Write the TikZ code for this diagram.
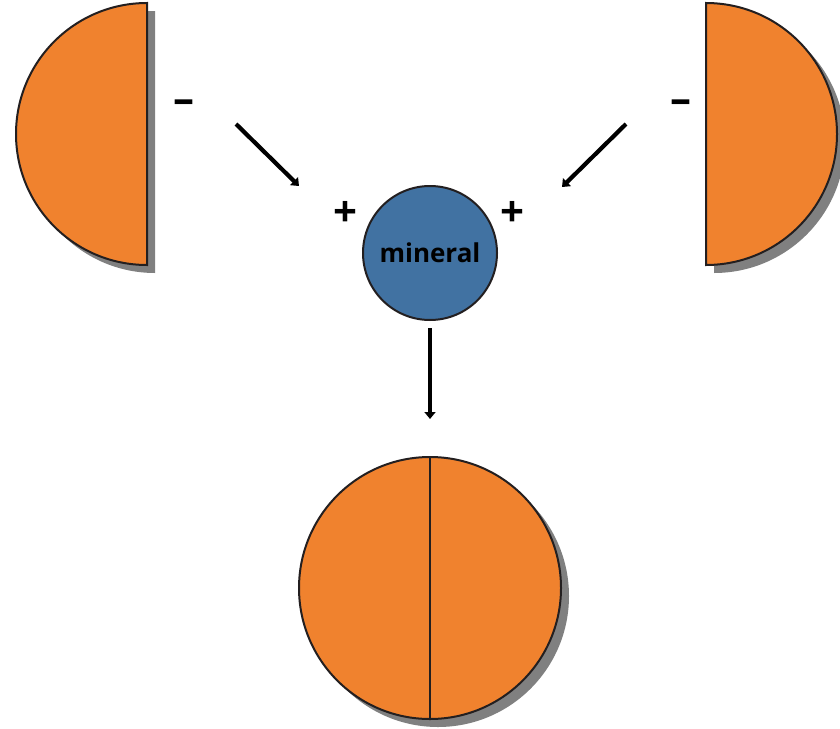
\documentclass[tikz,border=0pt]{standalone}
\usepackage{fontspec}
\setmainfont{Open Sans}
\usetikzlibrary{arrows.meta}
\definecolor{half}{HTML}{F0822E}
\definecolor{ion}{HTML}{4172A2}
\definecolor{edge}{HTML}{231F20}
\definecolor{shade}{HTML}{808080}
\tikzset{
  x=1pt, y=-1pt,
  piece/.style={fill=half, draw=edge, line width=2pt},
  drop/.style={fill=shade},
  flow/.style={line width=4.2pt, -{Triangle[length=7pt,width=11pt]}},
  sign/.style={font=\bfseries\fontsize{42}{42}\selectfont, inner sep=0pt},
}
\begin{document}
\begin{tikzpicture}
\useasboundingbox (0,0) rectangle (840,728);

% left half-sphere (flat side facing right)
\fill[drop] (155,273) arc[start angle=90, end angle=270, radius=131] -- cycle;
\draw[piece] (147,265) arc[start angle=90, end angle=270, radius=131] -- cycle;
\coordinate (lefthalf) at (147,134);

% right half-sphere (flat side facing left)
\fill[drop] (714,273) arc[start angle=90, end angle=-90, radius=131] -- cycle;
\draw[piece] (706,265) arc[start angle=90, end angle=-90, radius=131] -- cycle;
\coordinate (righthalf) at (706,134);

% mineral ion
\node[circle, minimum size=134pt, inner sep=0pt, fill=ion, draw=edge, line width=2pt,
      font=\bfseries\fontsize{26}{26}\selectfont] (mineral) at (430,253) {mineral};

% joined sphere
\fill[drop] (438,596) circle[radius=131];
\node[circle, minimum size=262pt, inner sep=0pt, piece] (whole) at (430,588) {};
\draw[edge, line width=2pt] (whole.north) -- (whole.south);

% charges
\node[sign] (lminus) at (184,107) {–};
\node[sign] (rminus) at (681,107) {–};
\node[sign] (lplus) at (345,214) {+};
\node[sign] (rplus) at (512,214) {+};

% arrows
\coordinate (lstart) at (236,124);
\coordinate (lend) at (299,186);
\coordinate (rstart) at (626,124);
\coordinate (rend) at (562,187);
\coordinate (dstart) at (430,328);
\coordinate (dend) at (430,419);
\draw[flow] (lstart) -- (lend);
\draw[flow] (rstart) -- (rend);
\draw[flow] (dstart) -- (dend);
\end{tikzpicture}
\end{document}
